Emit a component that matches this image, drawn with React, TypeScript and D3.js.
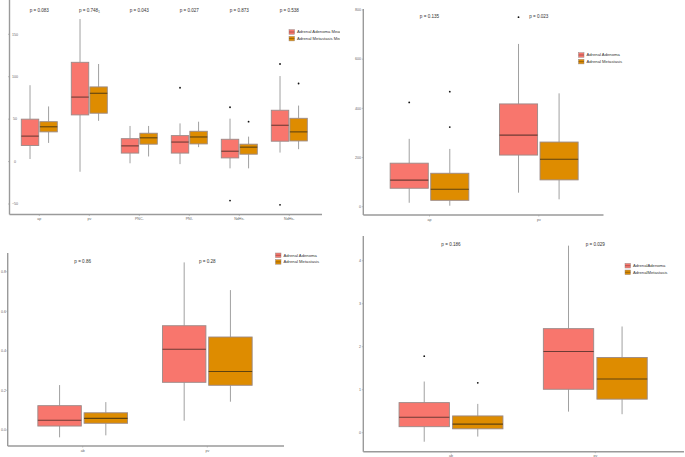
import React, { useEffect, useRef } from 'react';
import * as d3 from 'd3';

// box stats are [lower whisker, q1, median, q3, upper whisker]
const groups = ['Adenoma', 'Metastasis'];
const fills = ['#F8766D', '#DE8C00'];
const medianColors = ['#6e3b35', '#5e4210'];

// panel A (top left)
const aCategories = ['ap', 'pv', 'PNC₁', 'PNI₁', 'NdHs₁', 'NdHs₂'];
const aPValues = ['p = 0.083', 'p = 0.748₁', 'p = 0.043', 'p = 0.027', 'p = 0.873', 'p = 0.538'];
const aAdenoma = [[3, 19, 30, 50, 90], [-12, 55, 76, 117, 168], [-2, 10, 18.5, 27, 42], [-3, 10, 23, 30.6, 45], [-8, 4.3, 12.2, 26.3, 50.6], [10.6, 24, 42.8, 60.5, 100.8]];
const aMetastasis = [[22, 35, 41, 47, 65], [48, 57, 80.5, 88, 115], [6, 20.5, 28, 33.4, 42], [17, 20.8, 29, 35.7, 47], [-8, 8.7, 17, 20.5, 29.4], [14.6, 24.3, 35, 51, 66]];
const aAdenomaOut = [[], [], [], [87], [64, -46], [115, -51]];
const aMetastasisOut = [[], [], [], [], [47], [92]];
const aTicks = [-50, 0, 50, 100, 150];
const aLegend = ['Adrenal Adenoma Mean', 'Adrenal Metastasis Mean'];

// panel B (top right)
const bCategories = ['ap', 'pv'];
const bPValues = ['p = 0.135', 'p = 0.023'];
const bAdenoma = [[16, 75, 108, 177, 276], [57, 210, 291, 418, 662]];
const bMetastasis = [[4, 26, 71, 136, 235], [30, 109, 193, 263, 461]];
const bAdenomaOut = [[424], [771]];
const bMetastasisOut = [[468, 324], []];
const bTicks = [0, 200, 400, 600, 800];
const bLegend = ['Adrenal Adenoma', 'Adrenal Metastasis'];

// panel C (bottom left)
const cCategories = ['ab', 'pv'];
const cPValues = ['p = 0.86', 'p = 0.28'];
const cAdenoma = [[-0.037, 0.02, 0.049, 0.123, 0.227], [0.047, 0.241, 0.408, 0.527, 0.847]];
const cMetastasis = [[-0.027, 0.034, 0.059, 0.087, 0.141], [0.143, 0.226, 0.296, 0.47, 0.707]];
const cAdenomaOut = [[], []];
const cMetastasisOut = [[], []];
const cTicks = [0, 0.2, 0.4, 0.6, 0.8];
const cLegend = ['Adrenal Adenoma', 'Adrenal Metastasis'];

// panel D (bottom right)
const dCategories = ['ab', 'pv'];
const dPValues = ['p = 0.186', 'p = 0.029'];
const dAdenoma = [[-0.21, 0.14, 0.36, 0.7, 1.19], [0.49, 1.01, 1.89, 2.42, 4.35]];
const dMetastasis = [[-0.09, 0.09, 0.2, 0.39, 0.67], [0.43, 0.78, 1.25, 1.75, 2.47]];
const dAdenomaOut = [[1.78], []];
const dMetastasisOut = [[1.16], []];
const dTicks = [0, 1, 2, 3, 4];
const dLegend = ['AdrenalAdenoma', 'AdrenalMetastasis'];

const panels = [
  {
    categories: aCategories, pValues: aPValues, stats: [aAdenoma, aMetastasis], outliers: [aAdenomaOut, aMetastasisOut],
    ticks: aTicks, legend: aLegend, fmt: d3.format('d'),
    clip: [0, 0, 340, 228], axisX: [9.5, 322], axisY: [0, 214.5],
    catRange: [39.3, 289.3], yDomain: [-50, 150], yRange: [204, 34.3],
    pY: 12, legendX: 289, legendY: 32, tickLabelX: 15, tickAnchor: 'middle',
  },
  {
    categories: bCategories, pValues: bPValues, stats: [bAdenoma, bMetastasis], outliers: [bAdenomaOut, bMetastasisOut],
    ticks: bTicks, legend: bLegend, fmt: d3.format('d'),
    clip: [340, 0, 345, 228], axisX: [363.3, 603.5], axisY: [9, 215],
    catRange: [429.5, 538.8], yDomain: [0, 800], yRange: [206.7, 10],
    pY: 17.5, legendX: 578.5, legendY: 55, tickLabelX: 361, tickAnchor: 'end',
  },
  {
    categories: cCategories, pValues: cPValues, stats: [cAdenoma, cMetastasis], outliers: [cAdenomaOut, cMetastasisOut],
    ticks: cTicks, legend: cLegend, fmt: d3.format('.1f'),
    clip: [0, 228, 340, 229], axisX: [7.7, 284], axisY: [253, 446],
    catRange: [82.7, 207.3], yDomain: [0, 0.8], yRange: [430, 271.7],
    pY: 262.5, legendX: 275.5, legendY: 255.3, tickLabelX: 6, tickAnchor: 'end',
  },
  {
    categories: dCategories, pValues: dPValues, stats: [dAdenoma, dMetastasis], outliers: [dAdenomaOut, dMetastasisOut],
    ticks: dTicks, legend: dLegend, fmt: d3.format('d'),
    clip: [340, 228, 345, 229], axisX: [363.3, 684], axisY: [236, 451.7],
    catRange: [451, 595.3], yDomain: [0, 4], yRange: [432.7, 260.7],
    pY: 245.5, legendX: 625, legendY: 265.7, tickLabelX: 361, tickAnchor: 'end',
  },
];

const BoxPlotFigure = () => {
  const chartRef = useRef<SVGSVGElement>(null);

  useEffect(() => {
    const root = d3.select(chartRef.current);
    root.selectAll('*').remove();
    const defs = root.append('defs');

    panels.forEach((p, pi) => {
      defs.append('clipPath').attr('id', `clip${pi}`)
        .append('rect')
        .attr('x', p.clip[0]).attr('y', p.clip[1])
        .attr('width', p.clip[2]).attr('height', p.clip[3]);

      const g = root.append('g').attr('clip-path', `url(#clip${pi})`);

      const x = d3.scalePoint().domain(p.categories).range(p.catRange as [number, number]);
      const step = x.step();
      const inner = d3.scaleBand().domain(groups)
        .range([-step * 0.36, step * 0.36]).paddingInner(0.06);
      const y = d3.scaleLinear().domain(p.yDomain).range(p.yRange);

      // axis lines
      g.append('line')
        .attr('x1', p.axisX[0]).attr('x2', p.axisX[0])
        .attr('y1', p.axisY[0]).attr('y2', p.axisY[1])
        .attr('stroke', '#9a9a9a').attr('stroke-width', 1.4);
      g.append('line')
        .attr('x1', p.axisX[0]).attr('x2', p.axisX[1])
        .attr('y1', p.axisY[1]).attr('y2', p.axisY[1])
        .attr('stroke', '#9a9a9a').attr('stroke-width', 1.4);

      // y ticks
      const yt = g.selectAll('.yt').data(p.ticks).enter().append('g')
        .attr('transform', d => `translate(0,${y(d)})`);
      yt.append('line')
        .attr('x1', p.axisX[0] - 1.5).attr('x2', p.axisX[0])
        .attr('stroke', '#9a9a9a').attr('stroke-width', 0.6);
      yt.append('text')
        .attr('x', p.tickLabelX).attr('dy', '0.35em')
        .attr('text-anchor', p.tickAnchor)
        .attr('font-size', 3.6).attr('fill', '#666')
        .text(d => p.fmt(d));

      // x ticks
      const xt = g.selectAll('.xt').data(p.categories).enter().append('g')
        .attr('transform', d => `translate(${x(d)},${p.axisY[1]})`);
      xt.append('line').attr('y1', 0).attr('y2', 1.5)
        .attr('stroke', '#9a9a9a').attr('stroke-width', 0.6);
      xt.append('text').attr('y', 5.5).attr('text-anchor', 'middle')
        .attr('font-size', 3.6).attr('fill', '#666')
        .text(d => d);

      // p values
      g.selectAll('.pv').data(p.pValues).enter().append('text')
        .attr('x', (d, i) => x(p.categories[i]) as number)
        .attr('y', p.pY)
        .attr('text-anchor', 'middle')
        .attr('font-size', 4.6).attr('fill', '#333')
        .text(d => d);

      // boxes
      groups.forEach((grp, gi) => {
        const bw = inner.bandwidth();
        const cx = (c: string) => (x(c) as number) + (inner(grp) as number) + bw / 2;
        const s = p.stats[gi];
        const bg = g.selectAll(`.b${gi}`).data(p.categories).enter().append('g');

        bg.append('line')
          .attr('x1', (d) => cx(d)).attr('x2', (d) => cx(d))
          .attr('y1', (d, i) => y(s[i][0])).attr('y2', (d, i) => y(s[i][1]))
          .attr('stroke', '#a0a0a0').attr('stroke-width', 1);
        bg.append('line')
          .attr('x1', (d) => cx(d)).attr('x2', (d) => cx(d))
          .attr('y1', (d, i) => y(s[i][3])).attr('y2', (d, i) => y(s[i][4]))
          .attr('stroke', '#a0a0a0').attr('stroke-width', 1);
        bg.append('rect')
          .attr('x', (d) => cx(d) - bw / 2).attr('width', bw)
          .attr('y', (d, i) => y(s[i][3]))
          .attr('height', (d, i) => y(s[i][1]) - y(s[i][3]))
          .attr('fill', fills[gi])
          .attr('stroke', '#9a8a88').attr('stroke-width', 0.9);
        bg.append('line')
          .attr('x1', (d) => cx(d) - bw / 2).attr('x2', (d) => cx(d) + bw / 2)
          .attr('y1', (d, i) => y(s[i][2])).attr('y2', (d, i) => y(s[i][2]))
          .attr('stroke', medianColors[gi]).attr('stroke-width', 1.1);

        const pts = p.categories.flatMap((c, i) => p.outliers[gi][i].map(v => ({ c, v })));
        g.selectAll(`.o${gi}`).data(pts).enter().append('circle')
          .attr('cx', d => cx(d.c)).attr('cy', d => y(d.v))
          .attr('r', 0.9).attr('fill', '#111');
      });

      // legend
      const lg = g.append('g').attr('transform', `translate(${p.legendX},${p.legendY})`);
      p.legend.forEach((label, li) => {
        const row = lg.append('g').attr('transform', `translate(0,${li * 6.6})`);
        row.append('rect').attr('x', 0).attr('y', -2.3).attr('width', 5.5).attr('height', 4.6)
          .attr('fill', fills[li]).attr('stroke', '#9a8a88').attr('stroke-width', 0.5);
        row.append('line').attr('x1', 0).attr('x2', 5.5).attr('y1', 0).attr('y2', 0)
          .attr('stroke', medianColors[li]).attr('stroke-width', 0.5);
        row.append('text').attr('x', 8).attr('dy', '0.35em')
          .attr('font-size', 4.2).attr('fill', '#333')
          .text(label);
      });
    });
  }, []);

  return (
    <svg
      ref={chartRef}
      width={685}
      height={457}
      style={{ position: 'absolute', left: 0, top: 0, background: '#fff', fontFamily: 'Liberation Sans, Arial, sans-serif' }}
    ></svg>
  );
};

export default function App() {
  return <BoxPlotFigure />;
}
